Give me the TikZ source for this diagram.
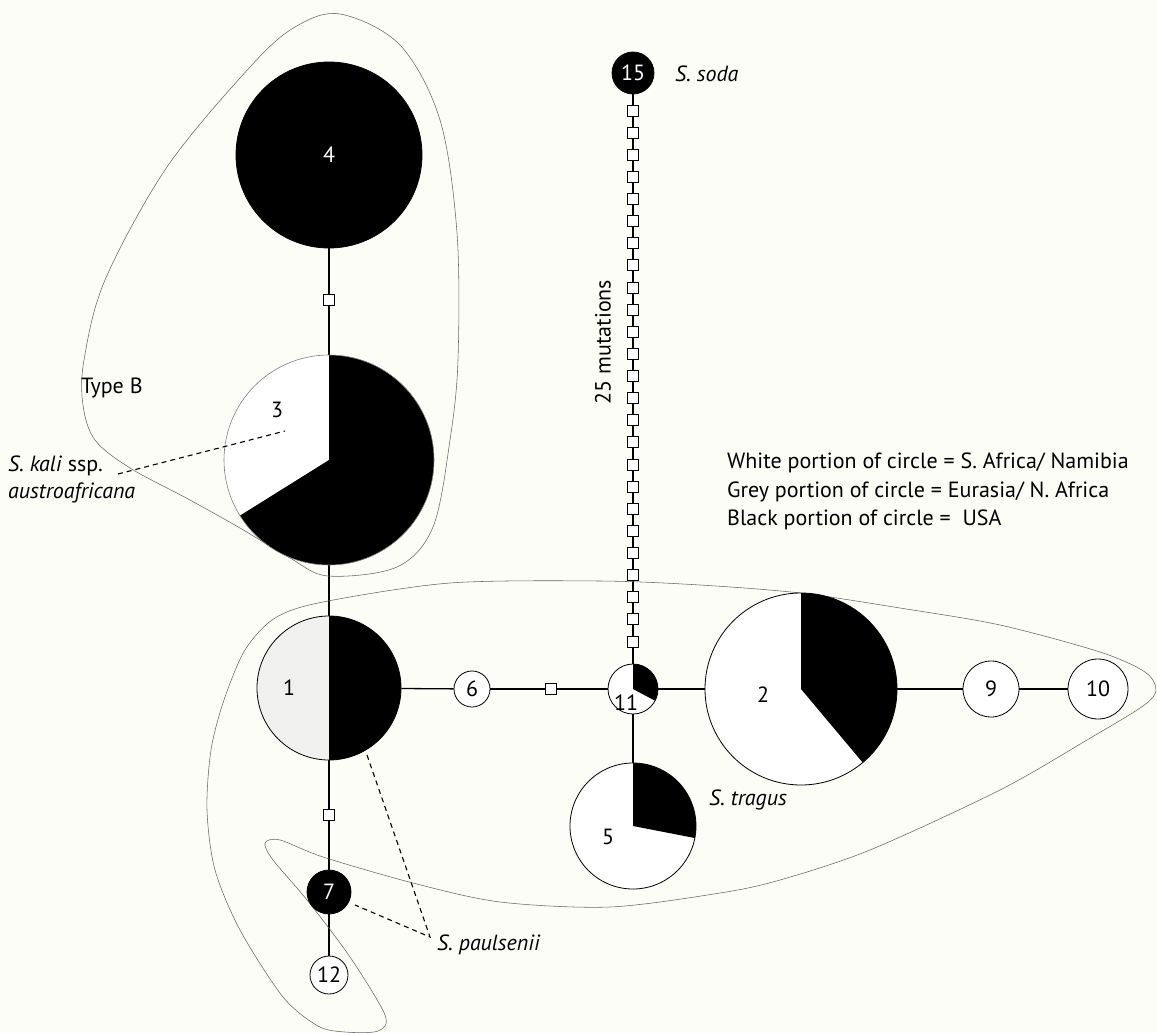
\documentclass[tikz,border=0pt]{standalone}
\usepackage{fontspec}
\setmainfont{PT Sans}
\definecolor{paper}{RGB}{253,253,248}
\definecolor{lgrey}{RGB}{240,240,238}
\pgfdeclarelayer{back}
\pgfdeclarelayer{bg}
\pgfdeclarelayer{pie}
\pgfsetlayers{back,bg,pie,main}
\begin{document}
\begin{tikzpicture}[x=1pt,y=1pt,
  hap/.style={circle,draw=black,line width=0.8pt,inner sep=0pt},
  mut/.style={rectangle,draw=black,line width=0.9pt,fill=white,minimum size=11pt,inner sep=0pt},
  edge/.style={line width=1.3pt},
  outl/.style={draw=black!60,line width=0.55pt},
  lab/.style={font=\fontsize{22}{26}\selectfont,inner sep=0pt},
  ital/.style={font=\fontsize{22}{26}\selectfont\itshape,inner sep=0pt},
  pointer/.style={line width=1.1pt,dash pattern=on 5pt off 4pt}
]
\begin{pgfonlayer}{back}
  \fill[paper] (0,0) rectangle (1157,-1033);
\end{pgfonlayer}
\useasboundingbox (0,0) rectangle (1157,-1033);

% nodes
\node[hap,fill=black,minimum size=186pt] (n4) at (329,-155) {};
\node[lab,text=white] (t4) at (n4) {4};
\node[mut] (m43) at (329,-300) {};
\node[hap,draw=black!50,line width=0.6pt,minimum size=210pt] (n3) at (329,-460) {};
\node[lab] (t3) at (277,-410) {3};
\node[hap,minimum size=144pt] (n1) at (329,-688) {};
\node[lab] (t1) at (289,-688) {1};
\node[hap,fill=white,minimum size=36pt] (n6) at (472,-689) {};
\node[lab] (t6) at (n6) {6};
\node[mut] (m611) at (551,-689) {};
\node[hap,minimum size=50pt] (n11) at (633,-689) {};
\node[lab] (t11) at (626,-703) {11};
\node[hap,minimum size=192pt] (n2) at (801,-689) {};
\node[lab] (t2) at (763,-695) {2};
\node[hap,fill=white,minimum size=56pt] (n9) at (991,-689) {};
\node[lab] (t9) at (n9) {9};
\node[hap,fill=white,minimum size=60pt] (n10) at (1098,-689) {};
\node[lab] (t10) at (n10) {10};
\node[hap,minimum size=126pt] (n5) at (633,-826) {};
\node[lab] (t5) at (608,-837) {5};
\node[hap,fill=black,minimum size=42pt] (n15) at (633,-73) {};
\node[lab,text=white] (t15) at (n15) {15};
\node[mut] (m17) at (329,-815) {};
\node[hap,fill=black,minimum size=44pt] (n7) at (329,-892) {};
\node[lab,text=white] (t7) at (n7) {7};
\node[hap,fill=white,minimum size=38pt] (n12) at (329,-975) {};
\node[lab] (t12) at (n12) {12};
\foreach \k in {0,...,24}
  \node[mut] (c\k) at (633,{-110.5-22.125*\k}) {};

% pies
\begin{pgfonlayer}{pie}
  \fill[white] (n3.center) circle[radius=105];
  \fill[black] (n3.center) -- ++(-148:105) arc[start angle=-148,end angle=90,radius=105] -- cycle;
  \fill[lgrey] (n1.center) -- ++(90:72) arc[start angle=90,end angle=270,radius=72] -- cycle;
  \fill[black] (n1.center) -- ++(-90:72) arc[start angle=-90,end angle=90,radius=72] -- cycle;
  \fill[white] (n11.center) circle[radius=25];
  \fill[black] (n11.center) -- ++(-28:25) arc[start angle=-28,end angle=90,radius=25] -- cycle;
  \fill[white] (n2.center) circle[radius=96];
  \fill[black] (n2.center) -- ++(-50:96) arc[start angle=-50,end angle=90,radius=96] -- cycle;
  \fill[white] (n5.center) circle[radius=63];
  \fill[black] (n5.center) -- ++(-11:63) arc[start angle=-11,end angle=90,radius=63] -- cycle;
\end{pgfonlayer}

% edges and outlines
\begin{pgfonlayer}{bg}
  \draw[edge] (n4) -- (n3);
  \draw[edge] (n3) -- (n1);
  \draw[edge] (n1) -- (n6);
  \draw[edge] (n6) -- (n11);
  \draw[edge] (n11) -- (n2);
  \draw[edge] (n2) -- (n9);
  \draw[edge] (n9) -- (n10);
  \draw[edge] (n11) -- (n5);
  \draw[edge] (n15) -- (n11);
  \draw[edge] (n1) -- (n7);
  \draw[edge] (n7) -- (n12);
  % Type B outline
  \draw[outl] plot[smooth cycle,tension=0.55] coordinates {
    (340,-14) (400,-45) (440,-120) (457,-233) (458,-360) (450,-440) (433,-527)
    (397,-567) (328,-576) (290,-558) (240,-528) (190,-500) (130,-468) (95,-440)
    (83,-405) (84,-360) (105,-280) (167,-167) (250,-67) (295,-27)};
  % S. tragus outline
  \draw[outl] plot[smooth cycle,tension=0.5] coordinates {
    (323,-602) (450,-583) (600,-581) (700,-585) (800,-593) (900,-608) (1000,-625)
    (1100,-652) (1145,-672) (1156,-690) (1143,-706) (1087,-740) (1000,-790)
    (870,-850) (780,-880) (720,-893) (610,-907) (500,-902) (413,-883) (323,-857)
    (280,-840) (265,-843) (273,-860) (307,-900) (350,-957) (385,-1015)
    (378,-1031) (345,-1032) (318,-1026) (283,-997) (240,-930) (215,-870)
    (207,-810) (211,-750) (224,-700) (245,-650) (275,-618)};
\end{pgfonlayer}

% texts
\node[ital,anchor=west] (soda) at (675,-74) {S. soda};
\node[lab,rotate=90] (mut25) at (603,-342) {25 mutations};
\node[lab,anchor=west] (leg1) at (727,-463) {White portion of circle = S. Africa/ Namibia};
\node[lab,anchor=west] (leg2) at (727,-492) {Grey portion of circle = Eurasia/ N. Africa};
\node[lab,anchor=west] (leg3) at (727,-520) {Black portion of circle =\ \ USA};
\node[lab,anchor=west] (typeb) at (81,-388) {Type B};
\node[lab,anchor=west] (kali1) at (8,-466) {\textit{S. kali} ssp.};
\node[ital,anchor=west] (kali2) at (8,-493) {austroafricana};
\node[ital] (tragus) at (748,-800) {S. tragus};
\node[ital,anchor=west] (paul) at (437,-945) {S. paulsenii};

% pointers
\coordinate (ks) at (118,-474);
\coordinate (ke) at (285,-431);
\draw[pointer] (ks) -- (ke);
\coordinate (pa) at (430,-937);
\coordinate (p1) at (367,-755);
\coordinate (p7) at (355,-905);
\draw[pointer] (p1) -- (pa) -- (p7);
\end{tikzpicture}
\end{document}
